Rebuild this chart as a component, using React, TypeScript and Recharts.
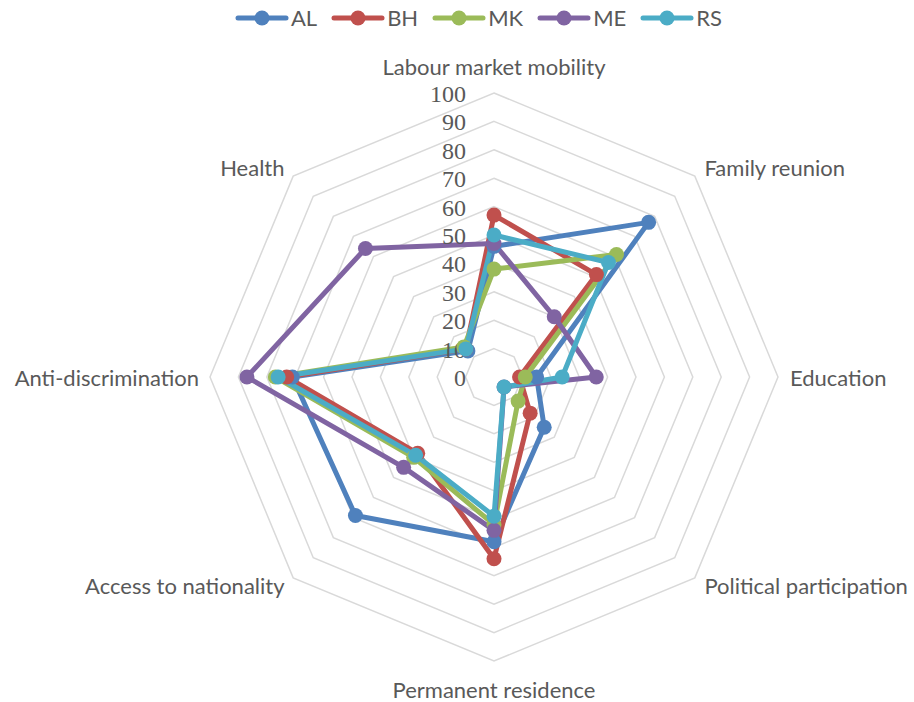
import React from 'react';
import { RadarChart, Radar, PolarGrid, PolarAngleAxis, PolarRadiusAxis, Legend } from 'recharts';

const categories = [
  'Labour market mobility',
  'Family reunion',
  'Education',
  'Political participation',
  'Permanent residence',
  'Access to nationality',
  'Anti-discrimination',
  'Health',
];

const AL = [46, 77, 15, 25, 58, 69, 71, 13];
const BH = [57, 51, 9, 18, 64, 38, 73, 14];
const MK = [38, 61, 11, 12, 52, 40, 77, 15];
const ME = [47, 30, 36, 5, 54, 45, 87, 64];
const RS = [50, 57, 24, 5, 49, 39, 76, 14];

const radiusTicks = [0, 10, 20, 30, 40, 50, 60, 70, 80, 90, 100];

const seriesList = [
  { key: 'AL', values: AL, color: '#4F81BD' },
  { key: 'BH', values: BH, color: '#C0504D' },
  { key: 'MK', values: MK, color: '#9BBB59' },
  { key: 'ME', values: ME, color: '#8064A2' },
  { key: 'RS', values: RS, color: '#4BACC6' },
];

const rows = categories.map((name, i) => {
  const row: Record<string, string | number> = { name };
  seriesList.forEach((s) => {
    row[s.key] = s.values[i];
  });
  return row;
});

const W = 914;
const H = 702;
const CX = 494;
const CY = 377;
const R = 284;
const TEXT = '#595959';
const SANS = 'Lato, "Open Sans", sans-serif';

const AngleTick = (props: any) => {
  const { x, y, payload, textAnchor } = props;
  let dx = 0;
  let dy = 0;
  if (textAnchor === 'start') dx = 4;
  else if (textAnchor === 'end') dx = -3;
  if (textAnchor === 'middle') dy = y < CY ? -19 : 20;
  else if (y < CY - 1) dy = -3;
  else if (y > CY + 1) dy = 2;
  return (
    <text
      x={x + dx}
      y={y + dy}
      textAnchor={textAnchor}
      dominantBaseline="central"
      fill={TEXT}
      fontSize={22}
      fontFamily={SANS}
    >
      {payload.value}
    </text>
  );
};

const RadiusTick = (props: any) => {
  const { x, y, payload } = props;
  return (
    <text
      x={x - 28}
      y={y + 1}
      textAnchor="end"
      dominantBaseline="central"
      fill={TEXT}
      fontSize={24}
      fontFamily='"Liberation Serif", serif'
    >
      {payload.value}
    </text>
  );
};

const LegendContent = () => (
  <div
    style={{
      display: 'flex',
      justifyContent: 'center',
      paddingLeft: 43,
      fontFamily: SANS,
      fontSize: 22,
      color: TEXT,
    }}
  >
    {seriesList.map((s) => (
      <div key={s.key} style={{ display: 'flex', alignItems: 'center', margin: '0 7px' }}>
        <svg width={54} height={20} style={{ marginRight: 2 }}>
          <line x1={3} y1={10} x2={51} y2={10} stroke={s.color} strokeWidth={5} strokeLinecap="round" />
          <circle cx={27} cy={10} r={7.5} fill={s.color} />
        </svg>
        <span>{s.key}</span>
      </div>
    ))}
  </div>
);

export default function App() {
  return (
    <div style={{ position: 'absolute', left: 0, top: 0, width: W, height: H, background: '#fff' }}>
      <RadarChart
        width={W}
        height={H}
        data={rows}
        cx={CX}
        cy={CY}
        outerRadius={R}
        margin={{ top: 0, right: 0, bottom: 0, left: 0 }}
      >
        <PolarGrid
          gridType="polygon"
          radialLines={false}
          stroke="#D9D9D9"
          strokeWidth={1.5}
          polarRadius={radiusTicks.map((t) => (t / 100) * R)}
        />
        <PolarAngleAxis dataKey="name" tick={<AngleTick />} tickLine={false} axisLine={false} />
        <PolarRadiusAxis
          angle={90}
          domain={[0, 100]}
          ticks={radiusTicks}
          tickCount={11}
          axisLine={false}
          tickLine={false}
          tick={<RadiusTick />}
        />
        {seriesList.map((s) => (
          <Radar
            key={s.key}
            name={s.key}
            dataKey={s.key}
            stroke={s.color}
            strokeWidth={5}
            strokeLinejoin="round"
            fill="none"
            fillOpacity={0}
            dot={{ r: 7.5, fill: s.color, stroke: 'none', fillOpacity: 1 }}
            isAnimationActive={false}
          />
        ))}
        <Legend verticalAlign="top" content={<LegendContent />} wrapperStyle={{ top: 4, left: 0, width: W }} />
      </RadarChart>
    </div>
  );
}
